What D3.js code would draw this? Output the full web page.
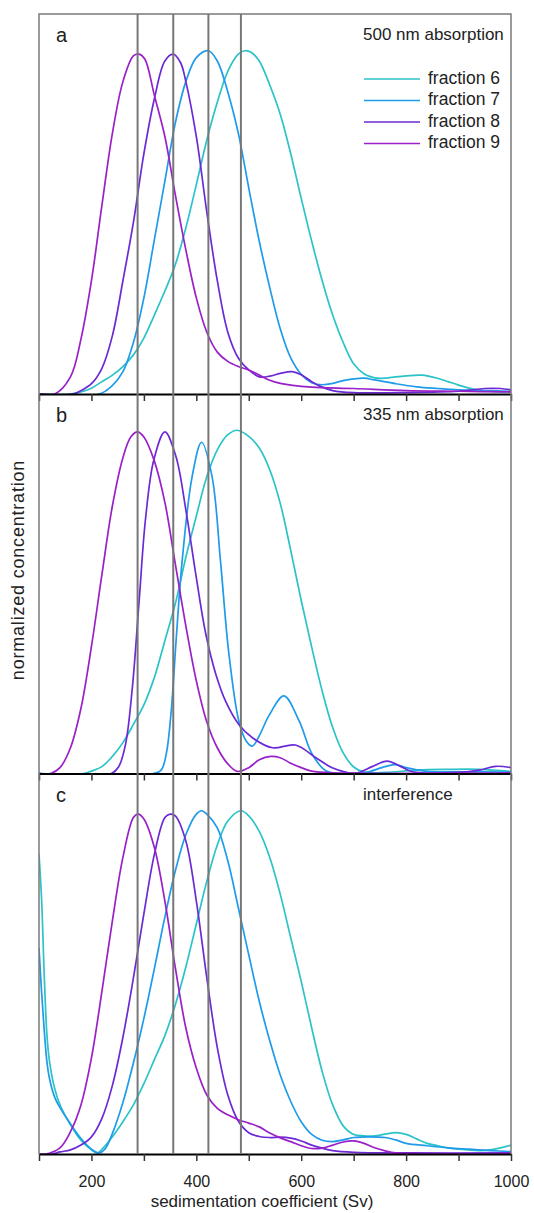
<!DOCTYPE html>
<html>
<head>
    <script src="https://d3js.org/d3.v7.min.js"></script>
    <style>
        body { margin: 0; background: #fff; }
        text { font-family: "Liberation Sans", Arial, sans-serif; fill: #222; }
    </style>
</head>
<body>
<div id="svg"></div>
<script>
    // [sedimentation coefficient (Sv), normalized concentration]
    var fractions = ["fraction 6", "fraction 7", "fraction 8", "fraction 9"];
    var colors = ["#2bc3c8", "#1f9bea", "#6b2ad6", "#9a20c8"];
    var panelLabels = ["a", "b", "c"];
    var panelTitles = ["500 nm absorption", "335 nm absorption", "interference"];
    var markers = [288, 356, 423, 485];
    var xTicks = [100, 200, 300, 400, 500, 600, 700, 800, 900, 1000];

    var a6 = [[100,0],[160,0],[180,0.006],[200,0.017],[220,0.036],[240,0.055],[260,0.08],[280,0.114],[300,0.163],[320,0.23],[340,0.30],[360,0.377],[380,0.484],[400,0.61],[420,0.74],[440,0.85],[460,0.94],[480,0.99],[492,1.0],[505,0.995],[520,0.97],[540,0.90],[560,0.815],[580,0.70],[600,0.57],[620,0.445],[640,0.33],[660,0.23],[680,0.15],[700,0.088],[720,0.058],[740,0.047],[760,0.046],[780,0.05],[800,0.053],[830,0.055],[860,0.046],[880,0.036],[900,0.026],[920,0.017],[940,0.011],[970,0.007],[1000,0.006]];
    var a7 = [[100,0],[215,0],[240,0.025],[260,0.065],[280,0.15],[300,0.28],[320,0.45],[340,0.62],[360,0.79],[380,0.91],[400,0.98],[423,1.0],[440,0.97],[460,0.88],[480,0.76],[500,0.60],[520,0.445],[540,0.31],[560,0.19],[580,0.105],[600,0.057],[620,0.033],[640,0.027],[660,0.031],[680,0.039],[700,0.044],[720,0.046],[740,0.041],[780,0.03],[820,0.021],[860,0.016],[900,0.012],[950,0.01],[1000,0.008]];
    var a8 = [[100,0],[165,0],[180,0.01],[200,0.03],[220,0.075],[240,0.17],[260,0.33],[280,0.50],[300,0.70],[320,0.86],[340,0.97],[356,0.99],[370,0.965],[380,0.91],[400,0.75],[420,0.53],[440,0.33],[460,0.18],[480,0.105],[500,0.07],[520,0.05],[540,0.052],[560,0.06],[583,0.065],[600,0.056],[620,0.036],[640,0.02],[660,0.01],[700,0.004],[800,0.004],[900,0.008],[950,0.016],[980,0.016],[1000,0.012]];
    var a9 = [[100,0],[130,0],[160,0.05],[180,0.16],[200,0.33],[220,0.55],[240,0.76],[260,0.91],[280,0.985],[291,0.99],[302,0.975],[320,0.87],[340,0.75],[360,0.58],[380,0.42],[400,0.28],[420,0.18],[440,0.122],[460,0.095],[480,0.08],[500,0.07],[520,0.055],[540,0.04],[560,0.031],[580,0.026],[620,0.02],[700,0.016],[800,0.01],[900,0.008],[1000,0.006]];

    var b6 = [[100,0],[185,0],[200,0.007],[220,0.02],[240,0.05],[260,0.09],[280,0.143],[300,0.20],[320,0.28],[340,0.387],[360,0.495],[380,0.63],[400,0.75],[420,0.865],[440,0.943],[460,0.987],[478,1.0],[500,0.982],[520,0.948],[540,0.885],[560,0.787],[580,0.65],[600,0.504],[620,0.368],[640,0.24],[660,0.134],[680,0.06],[700,0.019],[720,0.004],[760,0.003],[820,0.01],[880,0.012],[940,0.012],[1000,0.006]];
    var b7 = [[100,0],[318,0],[333,0.01],[343,0.06],[352,0.18],[362,0.40],[373,0.62],[392,0.865],[410,0.965],[430,0.865],[446,0.62],[462,0.35],[481,0.153],[495,0.095],[507,0.08],[520,0.11],[539,0.17],[567,0.226],[596,0.153],[621,0.056],[647,0.008],[680,0],[720,0.002],[760,0.02],[780,0.026],[800,0.017],[840,0.006],[900,0.005],[1000,0.004]];
    var b8 = [[100,0],[238,0],[252,0.02],[265,0.085],[278,0.25],[291,0.504],[303,0.74],[319,0.914],[340,0.995],[361,0.924],[380,0.768],[399,0.58],[418,0.407],[437,0.29],[456,0.21],[481,0.143],[507,0.104],[545,0.075],[589,0.083],[628,0.046],[659,0.017],[704,0.001],[735,0.02],[764,0.036],[790,0.02],[812,0.005],[900,0.003],[940,0.01],[971,0.021],[1000,0.017]];
    var b9 = [[100,0],[122,0],[140,0.017],[160,0.075],[180,0.19],[200,0.37],[220,0.58],[240,0.78],[260,0.92],[275,0.98],[288,0.995],[300,0.98],[320,0.91],[340,0.79],[360,0.61],[380,0.43],[400,0.27],[420,0.15],[440,0.075],[460,0.028],[478,0.006],[500,0.017],[520,0.04],[542,0.05],[560,0.046],[580,0.03],[600,0.017],[620,0.007],[660,0.002],[1000,0.002]];

    var c6 = [[100,0.873],[105,0.74],[110,0.52],[115,0.35],[120,0.27],[130,0.19],[140,0.143],[160,0.085],[180,0.04],[200,0.012],[211,0.003],[222,0.017],[240,0.05],[260,0.094],[280,0.143],[300,0.205],[320,0.275],[340,0.345],[360,0.435],[380,0.545],[400,0.67],[420,0.795],[440,0.90],[460,0.97],[485,1.0],[500,0.985],[520,0.94],[540,0.864],[560,0.757],[580,0.63],[600,0.503],[620,0.367],[640,0.24],[660,0.143],[680,0.082],[700,0.057],[720,0.053],[740,0.053],[760,0.058],[780,0.062],[800,0.057],[820,0.044],[840,0.031],[860,0.024],[880,0.018],[900,0.014],[940,0.01],[960,0.012],[980,0.018],[1000,0.026]];
    var c7 = [[100,0.60],[105,0.47],[110,0.36],[115,0.27],[120,0.22],[130,0.165],[140,0.135],[160,0.088],[180,0.045],[200,0.014],[214,0.003],[226,0.015],[240,0.06],[260,0.15],[280,0.265],[300,0.395],[320,0.54],[340,0.69],[360,0.825],[380,0.93],[400,0.99],[410,1.0],[420,0.99],[440,0.95],[460,0.854],[480,0.718],[500,0.58],[520,0.445],[540,0.33],[560,0.23],[580,0.153],[600,0.094],[620,0.057],[640,0.04],[660,0.036],[680,0.041],[700,0.048],[730,0.05],[760,0.048],[780,0.041],[800,0.031],[840,0.024],[880,0.018],[920,0.014],[960,0.01],[1000,0.007]];
    var c8 = [[100,0],[125,0],[140,0.006],[160,0.012],[180,0.026],[200,0.05],[220,0.104],[240,0.2],[260,0.34],[280,0.513],[300,0.70],[320,0.873],[340,0.98],[350,0.99],[360,0.985],[380,0.912],[400,0.737],[420,0.513],[440,0.31],[460,0.172],[480,0.096],[500,0.062],[520,0.051],[540,0.048],[560,0.049],[580,0.046],[600,0.038],[620,0.026],[640,0.017],[660,0.01],[700,0.005],[800,0.003],[1000,0.003]];
    var c9 = [[100,0],[113,0],[140,0.018],[160,0.065],[180,0.143],[200,0.28],[220,0.474],[240,0.68],[260,0.864],[280,0.98],[289,0.99],[300,0.976],[320,0.893],[340,0.737],[360,0.542],[380,0.367],[400,0.25],[420,0.172],[440,0.133],[460,0.114],[480,0.10],[500,0.09],[520,0.079],[540,0.061],[560,0.047],[580,0.036],[600,0.024],[620,0.016],[640,0.017],[660,0.026],[680,0.035],[700,0.038],[720,0.031],[740,0.018],[760,0.009],[780,0.003],[1000,0.002]];

    var panelData = [[a6, a7, a8, a9], [b6, b7, b8, b9], [c6, c7, c8, c9]];

    var W = 534, H = 1213,
        left = 39, right = 511,
        tops = [14, 393.5, 774], ph = 380;

    var svg = d3.select("#svg").append("svg")
        .attr("width", W).attr("height", H);

    var x = d3.scaleLinear().domain([100, 1000]).range([left, right]);

    var line = d3.line().curve(d3.curveCatmullRom.alpha(0.5));

    panelData.forEach(function (series, p) {
        var top = tops[p], bottom = top + ph;
        var y = d3.scaleLinear().domain([0, 1.107]).range([bottom, top]);

        svg.append("clipPath").attr("id", "clip" + p)
            .append("rect")
            .attr("x", left).attr("y", top)
            .attr("width", right - left).attr("height", ph);

        var g = svg.append("g");

        g.append("g")
            .attr("clip-path", "url(#clip" + p + ")")
            .selectAll(".curve")
            .data(series)
            .enter()
            .append("path")
            .attr("class", "curve")
            .attr("d", function (d) { return line(d.map(function (q) { return [x(q[0]), y(q[1])]; })); })
            .style("fill", "none")
            .style("stroke", function (d, i) { return colors[i]; })
            .style("stroke-width", 1.7);

        var axis = d3.axisBottom(x)
            .tickValues(xTicks)
            .tickSizeInner(7)
            .tickSizeOuter(0)
            .tickPadding(15)
            .tickFormat(function (d) { return (p == 2 && d % 200 == 0) ? d : ""; });

        var ax = g.append("g")
            .attr("transform", "translate(0," + bottom + ")")
            .call(axis);
        ax.select(".domain").attr("stroke", "#000").attr("stroke-width", 2);
        ax.selectAll(".tick line").attr("stroke", "#333").attr("stroke-width", 1.5);
        ax.selectAll(".tick text").style("font-size", "16px").style("font-family", "Liberation Sans, Arial, sans-serif").attr("fill", "#222");

        g.append("text")
            .attr("x", 56).attr("y", top + 28)
            .style("font-size", "20px")
            .text(panelLabels[p]);

        g.append("text")
            .attr("x", 363).attr("y", top + 26)
            .style("font-size", "17px")
            .text(panelTitles[p]);
    });

    // frame
    svg.append("path")
        .attr("d", d3.line()([[left, tops[2] + ph], [left, tops[0]], [right, tops[0]], [right, tops[2] + ph]]))
        .style("fill", "none")
        .style("stroke", "#7a7a7a")
        .style("stroke-width", 1.5);

    // marker lines through all panels
    svg.selectAll(".marker")
        .data(markers)
        .enter()
        .append("line")
        .attr("class", "marker")
        .attr("x1", function (d) { return x(d); })
        .attr("x2", function (d) { return x(d); })
        .attr("y1", tops[0])
        .attr("y2", tops[2] + ph)
        .style("stroke", "#777")
        .style("stroke-width", 2);

    // legend
    fractions.forEach(function (f, i) {
        var ly = 79 + i * 21.5;
        svg.append("line")
            .attr("x1", 364).attr("x2", 420)
            .attr("y1", ly).attr("y2", ly)
            .style("stroke", colors[i])
            .style("stroke-width", 1.7);
        svg.append("text")
            .attr("x", 428).attr("y", ly)
            .attr("dominant-baseline", "middle")
            .style("font-size", "17.5px")
            .text(f);
    });

    svg.append("text")
        .attr("x", 262).attr("y", 1207)
        .attr("text-anchor", "middle")
        .style("font-size", "17px")
        .text("sedimentation coefficient (Sv)");

    svg.append("text")
        .attr("transform", "translate(24,570) rotate(-90)")
        .attr("text-anchor", "middle")
        .style("font-size", "18px")
        .style("letter-spacing", "0.8px")
        .text("normalized concentration");
</script>
</body>
</html>
